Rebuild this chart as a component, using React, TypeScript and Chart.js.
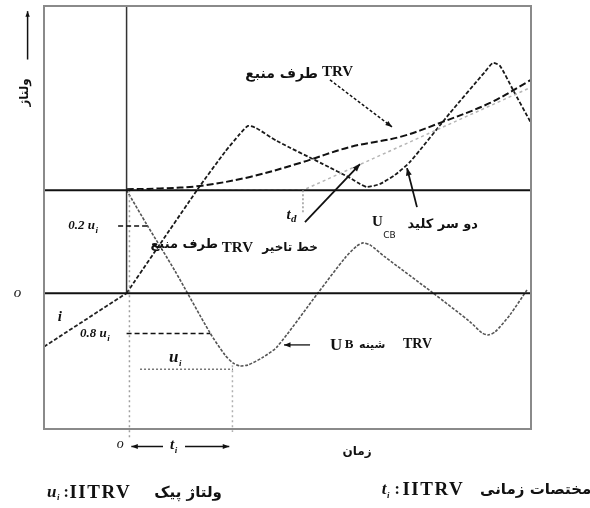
import React, { useEffect, useRef } from "react";
import { Chart, registerables } from "chart.js";

Chart.register(...registerables);

// Axis extents (time in units of t_i, voltage in units of the pre-interruption level)
const X_MIN = -0.78;
const X_MAX = 3.82;
const Y_MIN = -1.32;
const Y_MAX = 2.79;

// Characteristic values
const V_START = 1.0; // level at the instant of current zero
const U_I = 1.74; // ITRV peak
const T_I = 1.0; // ITRV time coordinate
const T_D = 1.666; // time delay of the source-side TRV

// Current i before interruption
const currentT = [-0.78, 0];
const currentV = [-0.52, 0];

// Source-side oscillation
const sourceWaveT = [0, 0.665, 0.929, 1.071, 1.147, 1.222, 1.421, 1.855, 2.11, 2.205, 2.271, 2.394, 2.535, 2.677, 3.055, 3.385, 3.461, 3.527, 3.65, 3.82];
const sourceWaveV = [0, 1.0, 1.372, 1.547, 1.625, 1.605, 1.478, 1.254, 1.12, 1.061, 1.032, 1.061, 1.149, 1.275, 1.751, 2.15, 2.237, 2.208, 1.975, 1.654];

// Bus-side TRV (U_B)
const busT = [0, 0.193, 0.457, 0.788, 0.929, 1.005, 1.071, 1.147, 1.279, 1.421, 1.808, 2.063, 2.176, 2.233, 2.299, 2.441, 2.894, 3.244, 3.357, 3.414, 3.48, 3.621, 3.782];
const busV = [1.0, 0.663, 0.216, -0.386, -0.6, -0.678, -0.707, -0.697, -0.629, -0.522, 0.002, 0.342, 0.459, 0.488, 0.469, 0.352, 0.002, -0.279, -0.386, -0.406, -0.377, -0.211, 0.031];

// Source-side TRV envelope
const trvT = [0, 0.315, 0.693, 1.165, 1.638, 2.11, 2.583, 2.96, 3.433, 3.82];
const trvV = [1.01, 1.017, 1.042, 1.129, 1.265, 1.42, 1.518, 1.654, 1.848, 2.072];

// Delay line of the source-side TRV
const delayT = [0, T_D, 3.82];
const delayV = [V_START, V_START, 2.0];

const pts = (xs: number[], ys: number[]) => xs.map((x, i) => ({ x, y: ys[i] }));

const SERIF = "'Liberation Serif', 'DejaVu Serif', serif";
const FA = "'DejaVu Sans', 'Noto Sans', sans-serif";

function arrowHead(ctx: CanvasRenderingContext2D, x1: number, y1: number, x2: number, y2: number, size: number) {
  const a = Math.atan2(y2 - y1, x2 - x1);
  ctx.beginPath();
  ctx.moveTo(x2, y2);
  ctx.lineTo(x2 - size * Math.cos(a - 0.38), y2 - size * Math.sin(a - 0.38));
  ctx.lineTo(x2 - size * Math.cos(a + 0.38), y2 - size * Math.sin(a + 0.38));
  ctx.closePath();
  ctx.fill();
}

function arrow(ctx: CanvasRenderingContext2D, x1: number, y1: number, x2: number, y2: number, dash: number[] = [], width = 1.5, head = 7) {
  ctx.save();
  ctx.lineWidth = width;
  ctx.setLineDash(dash);
  ctx.beginPath();
  ctx.moveTo(x1, y1);
  ctx.lineTo(x2, y2);
  ctx.stroke();
  ctx.setLineDash([]);
  arrowHead(ctx, x1, y1, x2, y2, head);
  ctx.restore();
}

function text(ctx: CanvasRenderingContext2D, s: string, x: number, y: number, font: string, align: CanvasTextAlign = "left", rtl = false, spacing = "0px") {
  ctx.save();
  ctx.font = font;
  ctx.direction = rtl ? "rtl" : "ltr";
  ctx.textAlign = align;
  ctx.textBaseline = "middle";
  (ctx as any).letterSpacing = spacing;
  ctx.fillText(s, x, y);
  ctx.restore();
}

// Main symbol followed by a lowered subscript; returns the end x
function subscripted(ctx: CanvasRenderingContext2D, main: string, sub: string, x: number, y: number, font: string, subFont: string, drop: number) {
  ctx.save();
  ctx.textBaseline = "middle";
  ctx.textAlign = "left";
  ctx.direction = "ltr";
  ctx.font = font;
  ctx.fillText(main, x, y);
  const w = ctx.measureText(main).width;
  ctx.font = subFont;
  ctx.fillText(sub, x + w + 0.5, y + drop);
  const w2 = ctx.measureText(sub).width;
  ctx.restore();
  return x + w + 0.5 + w2;
}

const annotate = {
  id: "annotate",
  afterDatasetsDraw(chart: any) {
    const { ctx, chartArea: a, scales } = chart;
    const X = (v: number) => scales.x.getPixelForValue(v);
    const Y = (v: number) => scales.y.getPixelForValue(v);
    ctx.save();
    ctx.fillStyle = "#111";
    ctx.strokeStyle = "#111";

    // frame
    ctx.strokeStyle = "#8a8a8a";
    ctx.lineWidth = 2;
    ctx.strokeRect(a.left, a.top, a.right - a.left, a.bottom - a.top);
    ctx.strokeStyle = "#111";

    // vertical axis title with arrow
    ctx.save();
    ctx.translate(X(-0.96), Y(1.95));
    ctx.rotate(-Math.PI / 2);
    text(ctx, "ولتاژ", 0, 0, `bold 12px ${FA}`, "center", true);
    ctx.restore();
    arrow(ctx, X(-0.935), Y(2.27), X(-0.935), Y(2.74), [], 1.5, 6);

    // source-side TRV label
    text(ctx, "TRV", X(1.846), Y(2.15), `bold 15px ${SERIF}`, "left");
    text(ctx, "طرف منبع", X(1.808), Y(2.13), `bold 14px ${FA}`, "right", true);
    arrow(ctx, X(1.921), Y(2.072), X(2.507), Y(1.615), [3, 2], 1.5, 7);

    // delay line label
    text(ctx, "طرف منبع", X(0.863), Y(0.47), `bold 13px ${FA}`, "right", true);
    text(ctx, "TRV", X(0.9), Y(0.44), `bold 15px ${SERIF}`, "left");
    text(ctx, "خط تاخیر", X(1.808), Y(0.44), `bold 12px ${FA}`, "right", true);

    // t_d label, marker and arrow
    subscripted(ctx, "t", "d", X(1.51), Y(0.76), `bold italic 15px ${SERIF}`, `bold italic 11px ${SERIF}`, 4);
    ctx.save();
    ctx.strokeStyle = "#9a9a9a";
    ctx.lineWidth = 1.5;
    ctx.setLineDash([2, 2]);
    ctx.beginPath();
    ctx.moveTo(X(T_D), Y(V_START));
    ctx.lineTo(X(T_D), Y(0.777));
    ctx.stroke();
    ctx.restore();
    arrow(ctx, X(1.685), Y(0.69), X(2.205), Y(1.254), [], 1.8, 8);

    // U_CB label
    subscripted(ctx, "U", "CB", X(2.318), Y(0.692), `bold 15px ${SERIF}`, `9px ${FA}`, 14);
    text(ctx, "دو سر کلید", X(3.319), Y(0.663), `bold 13px ${FA}`, "right", true);
    arrow(ctx, X(2.743), Y(0.836), X(2.649), Y(1.215), [], 1.8, 8);

    // bus-side TRV label
    ctx.save();
    ctx.fillStyle = "#fff";
    ctx.fillRect(X(1.87), Y(-0.38), X(2.62) - X(1.87), Y(-0.65) - Y(-0.38));
    ctx.restore();
    text(ctx, "U", X(1.921), Y(-0.513), `bold 17px ${SERIF}`, "left");
    text(ctx, "B", X(2.06), Y(-0.505), `bold 13px ${SERIF}`, "left");
    text(ctx, "شینه", X(2.195), Y(-0.505), `bold 11px ${FA}`, "left", false);
    text(ctx, "TRV", X(2.611), Y(-0.5), `bold 14px ${SERIF}`, "left");
    arrow(ctx, X(1.733), Y(-0.503), X(1.487), Y(-0.503), [], 1.3, 7);

    // ITRV construction lines
    ctx.save();
    ctx.lineWidth = 1.5;
    ctx.setLineDash([5, 3]);
    const l02 = V_START - 0.2 * U_I;
    const l08 = V_START - 0.8 * U_I;
    const lpk = V_START - U_I;
    ctx.beginPath();
    ctx.moveTo(X(-0.08), Y(l02));
    ctx.lineTo(X(0.195), Y(l02));
    ctx.moveTo(X(0), Y(l08));
    ctx.lineTo(X(0.79), Y(l08));
    ctx.stroke();
    ctx.strokeStyle = "#777";
    ctx.setLineDash([2, 2]);
    ctx.beginPath();
    ctx.moveTo(X(0.127), Y(lpk));
    ctx.lineTo(X(1.005), Y(lpk));
    ctx.stroke();
    ctx.restore();

    subscripted(ctx, "0.2 u", "i", X(-0.55), Y(l02), `bold italic 13px ${SERIF}`, `bold italic 9px ${SERIF}`, 5);
    subscripted(ctx, "0.8 u", "i", X(-0.44), Y(l08), `bold italic 13px ${SERIF}`, `bold italic 9px ${SERIF}`, 5);
    subscripted(ctx, "u", "i", X(0.4), Y(-0.63), `bold italic 17px ${SERIF}`, `bold italic 9px ${SERIF}`, 6);
    text(ctx, "o", X(-1.03), Y(0), `italic 15px ${SERIF}`, "center");
    text(ctx, "i", X(-0.63), Y(-0.235), `bold italic 15px ${SERIF}`, "center");

    // time axis: origin to t_i
    text(ctx, "o", X(-0.06), Y(-1.47), `italic 14px ${SERIF}`, "center");
    arrow(ctx, X(0.344), Y(-1.49), X(0.045), Y(-1.49), [], 1.5, 7);
    arrow(ctx, X(0.552), Y(-1.49), X(0.97), Y(-1.49), [], 1.5, 7);
    subscripted(ctx, "t", "i", X(0.41), Y(-1.48), `bold italic 15px ${SERIF}`, `bold italic 9px ${SERIF}`, 5);
    text(ctx, "زمان", X(2.177), Y(-1.543), `bold 12px ${FA}`, "center", true);

    // definitions
    const yL = Y(-1.942);
    let xe = subscripted(ctx, "u", "i", X(-0.752), yL, `bold italic 17px ${SERIF}`, `bold italic 9px ${SERIF}`, 5);
    text(ctx, ":", xe + 4, yL, `bold 16px ${SERIF}`, "left");
    text(ctx, "IITRV", xe + 10, yL, `bold 19px ${SERIF}`, "left", false, "1.5px");
    text(ctx, "ولتاژ پیک", X(0.9), yL, `bold 15px ${FA}`, "right", true);

    const yR = Y(-1.913);
    xe = subscripted(ctx, "t", "i", X(2.41), yR, `bold italic 17px ${SERIF}`, `bold italic 9px ${SERIF}`, 6);
    text(ctx, ":", xe + 5, yR, `bold 16px ${SERIF}`, "left");
    text(ctx, "IITRV", xe + 13, yR, `bold 19px ${SERIF}`, "left", false, "1.5px");
    text(ctx, "مختصات زمانی", X(4.39), yR, `bold 15px ${FA}`, "right", true);

    ctx.restore();
  },
};

export default function App() {
  const ref = useRef<HTMLCanvasElement | null>(null);

  useEffect(() => {
    if (!ref.current) return;
    const line = (data: any[], color: string, width: number, dash: number[], extra: any = {}) => ({
      data,
      showLine: true,
      borderColor: color,
      borderWidth: width,
      borderDash: dash,
      pointRadius: 0,
      fill: false,
      clip: false,
      ...extra,
    });
    const chart = new Chart(ref.current, {
      type: "scatter",
      data: {
        datasets: [
          // reference lines
          line(pts([X_MIN, X_MAX], [V_START, V_START]), "#111", 2, []),
          line(pts([X_MIN, X_MAX], [0, 0]), "#111", 2, []),
          line(pts([0, 0], [0, Y_MAX]), "#333", 1.5, []),
          line(pts([0.027, 0.027], [V_START, -1.43]), "#a0a0a0", 1.5, [2, 3]),
          line(pts([T_I, T_I], [-0.7, -1.35]), "#b0b0b0", 1.5, [2, 3]),
          // curves
          line(pts(delayT, delayV), "#b5b5b5", 1.5, [3, 3]),
          line(pts(trvT, trvV), "#111", 2, [7, 3], { tension: 0.35 }),
          line(pts(currentT, currentV), "#222", 1.8, [4, 2]),
          line(pts(sourceWaveT, sourceWaveV), "#1a1a1a", 1.8, [4, 2], { tension: 0.2 }),
          line(pts(busT, busV), "#555", 1.6, [3, 1.5], { tension: 0.25 }),
        ],
      },
      options: {
        responsive: false,
        animation: false,
        devicePixelRatio: 1,
        layout: { padding: { left: 44, right: 59, top: 6, bottom: 79 } },
        plugins: { legend: { display: false }, tooltip: { enabled: false } },
        scales: {
          x: { type: "linear", min: X_MIN, max: X_MAX, display: false },
          y: { type: "linear", min: Y_MIN, max: Y_MAX, display: false },
        },
      },
      plugins: [annotate],
    });
    return () => chart.destroy();
  }, []);

  return (
    <div style={{ position: "fixed", left: 0, top: 0, width: 590, height: 508, background: "#fff" }}>
      <canvas ref={ref} width={590} height={508} style={{ display: "block" }} />
    </div>
  );
}
